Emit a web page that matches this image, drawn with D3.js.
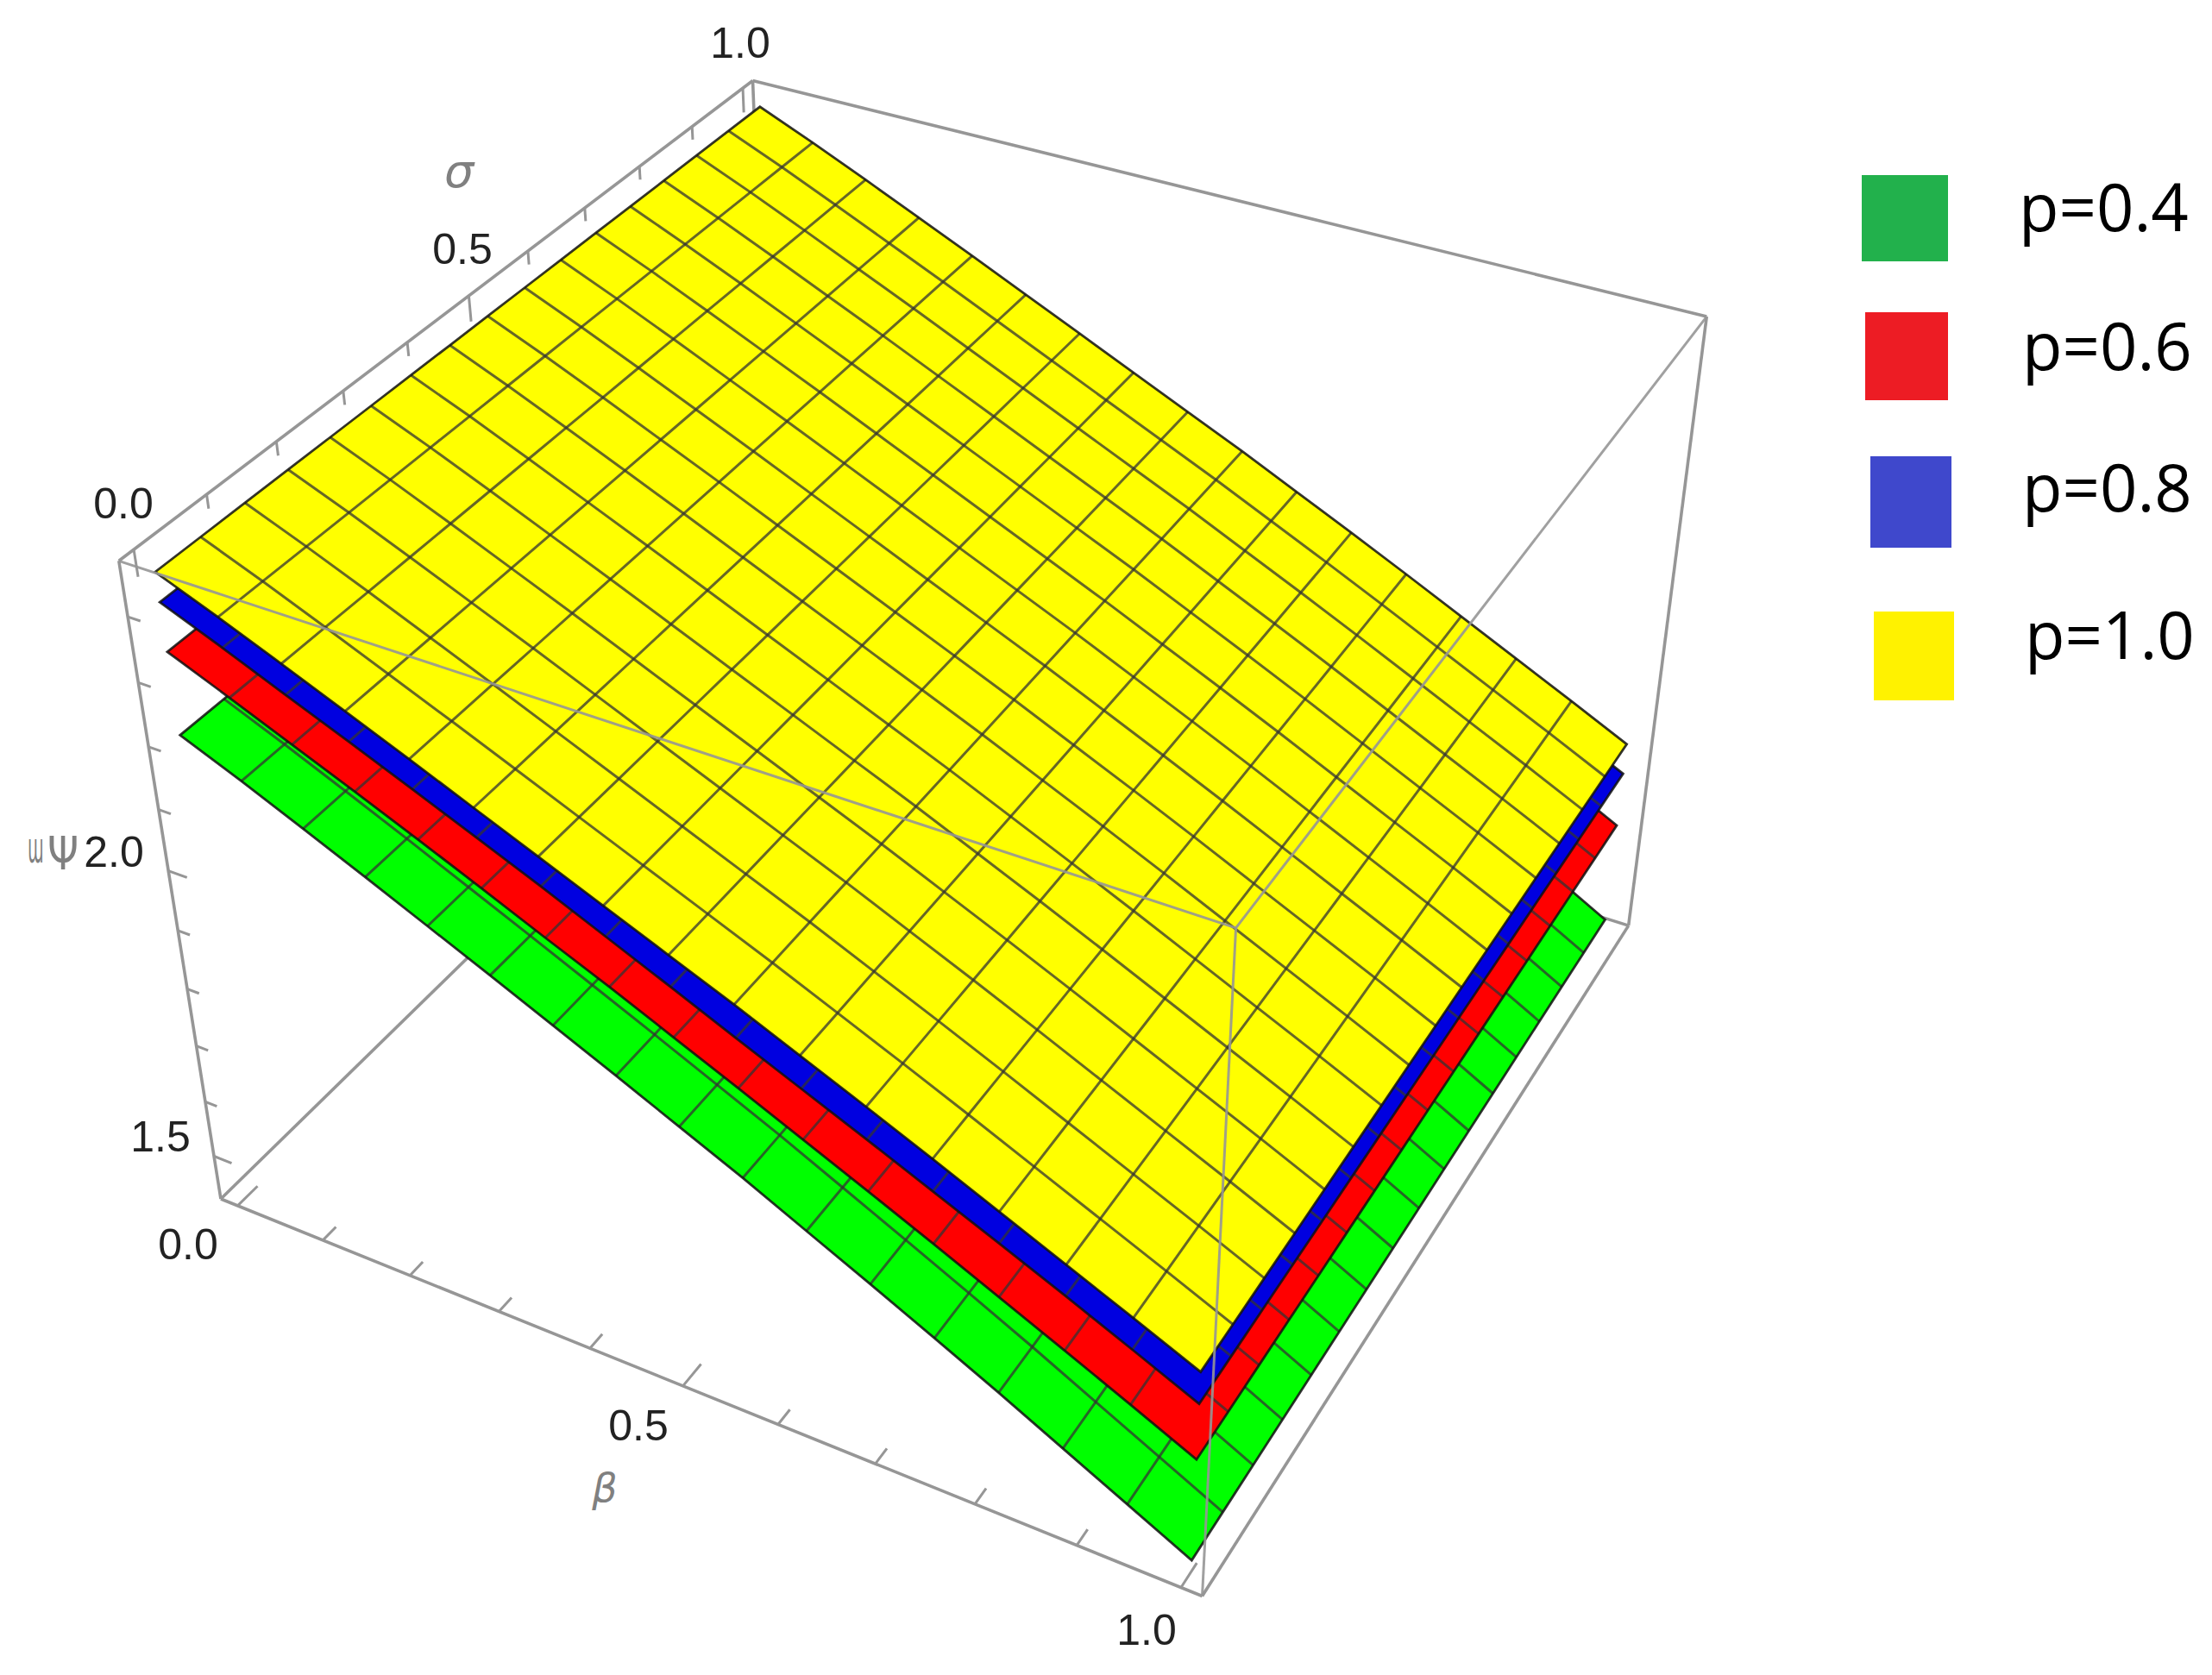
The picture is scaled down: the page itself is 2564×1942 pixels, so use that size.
<!DOCTYPE html>
<html><head><meta charset="utf-8">
<style>html,body{margin:0;background:#fff}svg{display:block}</style>
<script src="https://cdn.jsdelivr.net/npm/d3@7/dist/d3.min.js"></script>
</head><body><svg id="c" width="2564" height="1942"></svg>
<script>
const W=2564,H=1942;
// Series: psi2 read along beta = 0, 1/16 ... 1 (the surfaces do not change with sigma)
const pLabels=["p=0.4","p=0.6","p=0.8","p=1.0"];
const surfColors=["#00ff00","#ff0000","#0000e0","#ffff00"];
const legendColors=["#22B14C","#ED1C24","#3F48CC","#FFF200"];
const psiP04=[2.210,2.169,2.126,2.082,2.037,1.992,1.946,1.900,1.853,1.806,1.756,1.706,1.655,1.603,1.549,1.495,1.441];
const psiP06=[2.339,2.299,2.258,2.217,2.175,2.132,2.088,2.045,2.000,1.955,1.909,1.863,1.816,1.768,1.720,1.671,1.621];
const psiP08=[2.414,2.375,2.334,2.294,2.253,2.211,2.169,2.125,2.081,2.036,1.992,1.948,1.903,1.858,1.812,1.765,1.717];
const psiP10=[2.459,2.421,2.381,2.340,2.299,2.257,2.215,2.173,2.131,2.089,2.045,2.001,1.956,1.910,1.864,1.818,1.771];
const series=[psiP04,psiP06,psiP08,psiP10];
const meshBeta=d3.range(17).map(i=>i/16), meshSigma=d3.range(17).map(i=>i/16);
const betaTicks=d3.range(11).map(i=>i/10), sigmaTicks=betaTicks;
const zTicks=[1.5,1.6,1.7,1.8,1.9,2.0,2.1,2.2,2.3,2.4];
const zMajor=[1.5,2.0], xyMajor=[0,0.5,1];

// Linear scales from data to the unit cube of the plot box
const sx=d3.scaleLinear().domain([-0.02,1.02]).range([0,1]);
const sy=d3.scaleLinear().domain([-0.02,1.02]).range([0,1]);
const sz=d3.scaleLinear().domain([1.42,2.483]).range([0,1]);

// Camera: a projective map fitted to the visible corners and ticks of the box
const camera=[
[[0,0,0],[253,1390]],[[1,0,0],[1391,1851]],[[0,0,1],[137,652]],[[1,0,1],[1432,1074]],[[0,1,1],[871,93]],[[1,1,1],[1980,368]],[[1,1,0],[1887,1072]]];
[[0,277,1398],[.1,378,1438],[.2,478,1478],[.3,579,1522],[.4,681,1563],[.5,792,1605],[.6,903,1653],[.7,1016,1699],[.8,1129,1745],[.9,1249,1792],[1,1369,1839]].forEach(d=>camera.push([[sx(d[0]),0,0],[d[1],d[2]]]));
[[0,157,640],[.5,544,342],[.6,613,292],[.7,678,242],[.8,741,192],[.9,802,147],[1,861,103]].forEach(d=>camera.push([[0,sy(d[0]),1],[d[1],d[2]]]));
[[2.4,148,715],[2.3,160,790],[2.2,172,864],[2.1,183,936],[2,194,1011],[1.9,206,1079],[1.8,217,1145],[1.7,227,1212],[1.6,237,1278],[1.5,248,1341]].forEach(d=>camera.push([[0,0,sz(d[0])],[d[1],d[2]]]));
function fit(){
  const n=11,A=d3.range(n).map(()=>new Array(n+1).fill(0));
  const add=(r,b)=>{for(let i=0;i<n;i++){for(let j=0;j<n;j++)A[i][j]+=r[i]*r[j];A[i][n]+=r[i]*b;}};
  camera.forEach(([[u,v,w],[x,y]])=>{
    add([u,v,w,1,0,0,0,0,-x*u,-x*v,-x*w],x);
    add([0,0,0,0,u,v,w,1,-y*u,-y*v,-y*w],y);});
  for(let i=0;i<n;i++){let p=i;for(let r=i+1;r<n;r++)if(Math.abs(A[r][i])>Math.abs(A[p][i]))p=r;
    [A[i],A[p]]=[A[p],A[i]];
    for(let r=0;r<n;r++)if(r!==i){const f=A[r][i]/A[i][i];for(let c=i;c<=n;c++)A[r][c]-=f*A[i][c];}}
  return A.map((r,i)=>r[n]/r[i]);
}
const m=fit();
function cube(u,v,w){const d=m[8]*u+m[9]*v+m[10]*w+1;
  return [(m[0]*u+m[1]*v+m[2]*w+m[3])/d,(m[4]*u+m[5]*v+m[6]*w+m[7])/d];}
const proj=(b,s,z)=>cube(sx(b),sy(s),sz(z));
const line=d3.line();
const svg=d3.select("#c");
svg.append("rect").attr("width",W).attr("height",H).attr("fill","#fff");

const boxCol="#969696";
const edge=(g,a,b,w)=>g.append("path").attr("d",line([cube(...a),cube(...b)])).attr("fill","none").attr("stroke",boxCol).attr("stroke-width",w);

// Back and outer box edges
const gBack=svg.append("g");
[[[0,0,0],[1,0,0]],[[1,0,0],[1,1,0]],[[0,0,0],[0,0,1]],[[0,0,1],[0,1,1]],[[0,1,1],[1,1,1]],[[1,1,1],[1,1,0]],
 [[0,0,0],[0,1,0]],[[0,1,0],[1,1,0]],[[0,1,0],[0,1,1]]].forEach(e=>edge(gBack,e[0],e[1],3.6));

// Ticks
const gT=svg.append("g").attr("stroke",boxCol).attr("stroke-width",3).attr("fill","none");
betaTicks.forEach(t=>{const d=xyMajor.includes(t)?0.03:0.02,u=sx(t);
  gT.append("path").attr("d",line([cube(u,0,0),cube(u,d,0)]));});
sigmaTicks.forEach(t=>{const d=xyMajor.includes(t)?0.038:0.02,v=sy(t);
  gT.append("path").attr("d",line([cube(0,v,1),cube(0,v,1-d)]));});
zTicks.forEach(t=>{const d=zMajor.includes(t)?0.02:0.013,w=sz(t);
  gT.append("path").attr("d",line([cube(0,0,w),cube(d,0,w)]));});

// Surfaces, painted from lowest to highest
pLabels.forEach((p,k)=>{
  const g=svg.append("g");
  const P=(i,j)=>proj(meshBeta[i],meshSigma[j],series[k][i]);
  const boundary=[];
  d3.range(17).forEach(i=>boundary.push(P(i,0)));
  d3.range(1,17).forEach(j=>boundary.push(P(16,j)));
  d3.range(15,-1,-1).forEach(i=>boundary.push(P(i,16)));
  d3.range(15,0,-1).forEach(j=>boundary.push(P(0,j)));
  g.append("path").attr("d",line(boundary)+"Z").attr("fill",surfColors[k]).attr("stroke","none");
  const mesh=g.append("g").attr("fill","none").attr("stroke","#333").attr("stroke-opacity",0.75).attr("stroke-width",3);
  d3.range(1,16).forEach(i=>mesh.append("path").attr("d",line(d3.range(17).map(j=>P(i,j)))));
  d3.range(1,16).forEach(j=>mesh.append("path").attr("d",line(d3.range(17).map(i=>P(i,j)))));
  g.append("path").attr("d",line(boundary)+"Z").attr("fill","none").attr("stroke","#111").attr("stroke-opacity",0.85).attr("stroke-width",2.8);
});

// Front box edges, seen over the surfaces
const gF=svg.append("g").attr("opacity",0.9);
[[[1,0,1],[0,0,1]],[[1,0,1],[1,1,1]],[[1,0,1],[1,0,0]]].forEach(e=>edge(gF,e[0],e[1],3));

// Tick labels
const tick=svg.append("g").attr("font-family","'Liberation Sans',Arial,sans-serif").attr("font-size",50).attr("fill","#222").attr("text-anchor","middle");
[["1.0",858,49],["0.5",536,288],["0.0",143,583],["2.0",132,987],["1.5",186,1317],["0.0",218,1442],["0.5",740,1652],["1.0",1329,1889]]
 .forEach(d=>tick.append("text").attr("x",d[1]).attr("y",d[2]).attr("dy","0.36em").text(d[0]));

// Axis labels
svg.append("text").attr("x",532).attr("y",217).attr("font-family","'DejaVu Sans'").attr("font-style","italic").attr("font-size",54).attr("fill","#808080").attr("text-anchor","middle").text("σ");
svg.append("text").attr("x",701).attr("y",1741).attr("font-family","'DejaVu Sans'").attr("font-style","italic").attr("font-size",46).attr("fill","#808080").attr("text-anchor","middle").text("β");
svg.append("text").attr("transform","translate(32,1000) scale(0.38,1)").attr("font-family","'DejaVu Sans'").attr("font-size",50).attr("fill","#808080").text("ɯ");
svg.append("text").attr("transform","translate(55,1008) scale(0.85,1)").attr("font-family","'DejaVu Sans'").attr("font-size",54).attr("fill","#808080").text("Ψ");

// Legend
const legendBox=[[2158,203,100,100],[2162,362,96,102],[2168,529,94,106],[2172,709,93,103]];
const legendText=[[2340,268],[2344,429],[2344,593],[2347,764]];
pLabels.forEach((p,k)=>{
  svg.append("rect").attr("x",legendBox[k][0]).attr("y",legendBox[k][1]).attr("width",legendBox[k][2]).attr("height",legendBox[k][3]).attr("fill",legendColors[k]);
  svg.append("text").attr("x",legendText[k][0]).attr("y",legendText[k][1]).attr("font-family","'Open Sans'").attr("font-size",76).attr("fill","#000").text(p);
});
</script></body></html>
